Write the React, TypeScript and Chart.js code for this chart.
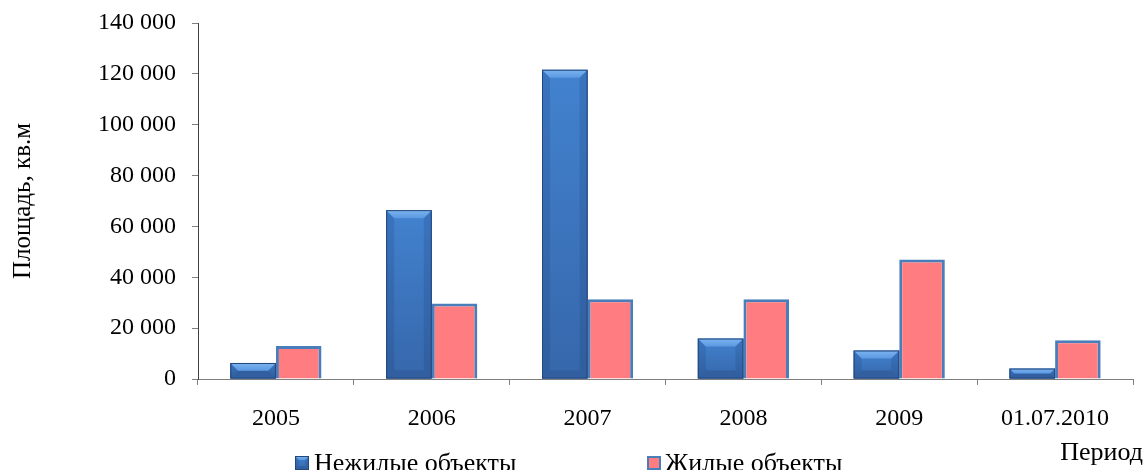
import React, { useEffect, useRef } from 'react';
import { Chart, registerables } from 'chart.js';

Chart.register(...registerables);

const FONT = '"Liberation Serif", "Times New Roman", serif';

const categories = ['2005', '2006', '2007', '2008', '2009', '01.07.2010'];
const nonResidential = [6300, 66400, 121600, 15900, 11200, 4100];
const residential = [13000, 29700, 31400, 31400, 47000, 15200];
const yTickLabels = ['0', '20 000', '40 000', '60 000', '80 000', '100 000', '120 000', '140 000'];
const seriesNames = ['Нежилые объекты', 'Жилые объекты'];
const yTitle = 'Площадь, кв.м';
const xTitle = 'Период';

const BLUE = '#3D78C4';
const BLUE_BORDER = '#24477A';
const PINK = '#FF7C80';
const PINK_BORDER = '#4A7EBB';

function trap(ctx: CanvasRenderingContext2D, pts: number[][], fill: string | CanvasGradient) {
  ctx.fillStyle = fill;
  ctx.beginPath();
  ctx.moveTo(pts[0][0], pts[0][1]);
  for (let i = 1; i < pts.length; i++) ctx.lineTo(pts[i][0], pts[i][1]);
  ctx.closePath();
  ctx.fill();
}

function drawBevelBar(ctx: CanvasRenderingContext2D, l: number, r: number, t: number, b: number, maxBev: number) {
  const bev = Math.min(maxBev, (b - t) / 2, (r - l) / 2);
  const g = ctx.createLinearGradient(0, t, 0, b);
  g.addColorStop(0, '#4282CF');
  g.addColorStop(1, '#3667AB');
  ctx.fillStyle = g;
  ctx.fillRect(l, t, r - l, b - t);
  const gl = ctx.createLinearGradient(0, t, 0, b);
  gl.addColorStop(0, '#3A74BE');
  gl.addColorStop(1, '#305E9E');
  trap(ctx, [[l, t], [l + bev, t + bev], [l + bev, b - bev], [l, b]], gl);
  trap(ctx, [[r, t], [r - bev, t + bev], [r - bev, b - bev], [r, b]], gl);
  trap(ctx, [[l, b], [r, b], [r - bev, b - bev], [l + bev, b - bev]], '#315FA0');
  const gt = ctx.createLinearGradient(0, t, 0, t + bev);
  gt.addColorStop(0, '#7DB4EF');
  gt.addColorStop(1, '#5A98E1');
  trap(ctx, [[l, t], [r, t], [r - bev, t + bev], [l + bev, t + bev]], gt);
  ctx.strokeStyle = BLUE_BORDER;
  ctx.lineWidth = 1;
  ctx.strokeRect(l + 0.5, t + 0.5, r - l - 1, b - t - 1);
}

export default function App() {
  const ref = useRef<HTMLCanvasElement>(null);

  useEffect(() => {
    const overlay = {
      id: 'overlay',
      afterDatasetsDraw(chart: any) {
        const ctx = chart.ctx as CanvasRenderingContext2D;
        const meta = chart.getDatasetMeta(0);
        ctx.save();
        meta.data.forEach((bar: any) => {
          const p = bar.getProps(['x', 'y', 'base', 'width'], true);
          const l = p.x - p.width / 2;
          const r = p.x + p.width / 2;
          const t = Math.min(p.y, p.base);
          const b = Math.max(p.y, p.base);
          drawBevelBar(ctx, l, r, t, b, 8);
        });
        ctx.restore();
      },
      afterDraw(chart: any) {
        const ctx = chart.ctx as CanvasRenderingContext2D;
        ctx.save();
        ctx.font = `26px ${FONT}`;
        ctx.textBaseline = 'alphabetic';
        drawBevelBar(ctx, 295, 309, 456, 470, 4);
        ctx.fillStyle = PINK;
        ctx.fillRect(647, 456, 14, 14);
        ctx.strokeStyle = PINK_BORDER;
        ctx.lineWidth = 2;
        ctx.strokeRect(648, 457, 12, 12);
        ctx.fillStyle = '#000';
        ctx.textAlign = 'left';
        ctx.fillText(seriesNames[0], 314, 471);
        ctx.fillText(seriesNames[1], 665, 471);
        ctx.textAlign = 'right';
        ctx.fillText(xTitle, 1143, 460);
        ctx.restore();
      },
    };

    const chart = new Chart(ref.current as HTMLCanvasElement, {
      type: 'bar',
      data: {
        labels: categories,
        datasets: [
          {
            label: seriesNames[0],
            data: nonResidential,
            backgroundColor: BLUE,
            borderColor: BLUE_BORDER,
            borderWidth: 1,
            categoryPercentage: 0.585,
            barPercentage: 1,
          },
          {
            label: seriesNames[1],
            data: residential,
            backgroundColor: PINK,
            borderColor: PINK_BORDER,
            borderWidth: 3,
            categoryPercentage: 0.585,
            barPercentage: 1,
          },
        ],
      },
      options: {
        responsive: false,
        animation: false,
        layout: { padding: { top: 23, right: 13, left: 0, bottom: 0 } },
        plugins: {
          legend: { display: false },
          tooltip: { enabled: false },
        },
        scales: {
          x: {
            ticks: { font: { family: FONT, size: 24 }, color: '#000', padding: 19, maxRotation: 0 },
            grid: { offset: true, drawOnChartArea: false, drawTicks: true, tickLength: 6, color: '#7f7f7f' },
            border: { color: '#7f7f7f', width: 1 },
            afterFit: (s: any) => {
              s.height = 91;
              s.paddingLeft = 0;
              s.paddingRight = 0;
            },
          },
          y: {
            min: 0,
            max: 140000,
            ticks: {
              stepSize: 20000,
              font: { family: FONT, size: 24 },
              color: '#000',
              padding: 16,
              callback: (_v: any, i: number) => yTickLabels[i],
            },
            grid: { drawOnChartArea: false, drawTicks: true, tickLength: 6, color: '#7f7f7f' },
            border: { color: '#404040', width: 1 },
            title: {
              display: true,
              text: yTitle,
              font: { family: FONT, size: 25 },
              color: '#000',
              padding: { top: 8, bottom: 0 },
            },
            afterFit: (s: any) => {
              s.width = 198;
              s.paddingTop = 0;
              s.paddingBottom = 0;
            },
          },
        },
      },
      plugins: [overlay],
    });
    return () => chart.destroy();
  }, []);

  return (
    <div style={{ position: 'absolute', left: 0, top: 0, width: 1146, height: 470, background: '#fff' }}>
      <canvas ref={ref} width={1146} height={470} style={{ width: 1146, height: 470 }} />
    </div>
  );
}
